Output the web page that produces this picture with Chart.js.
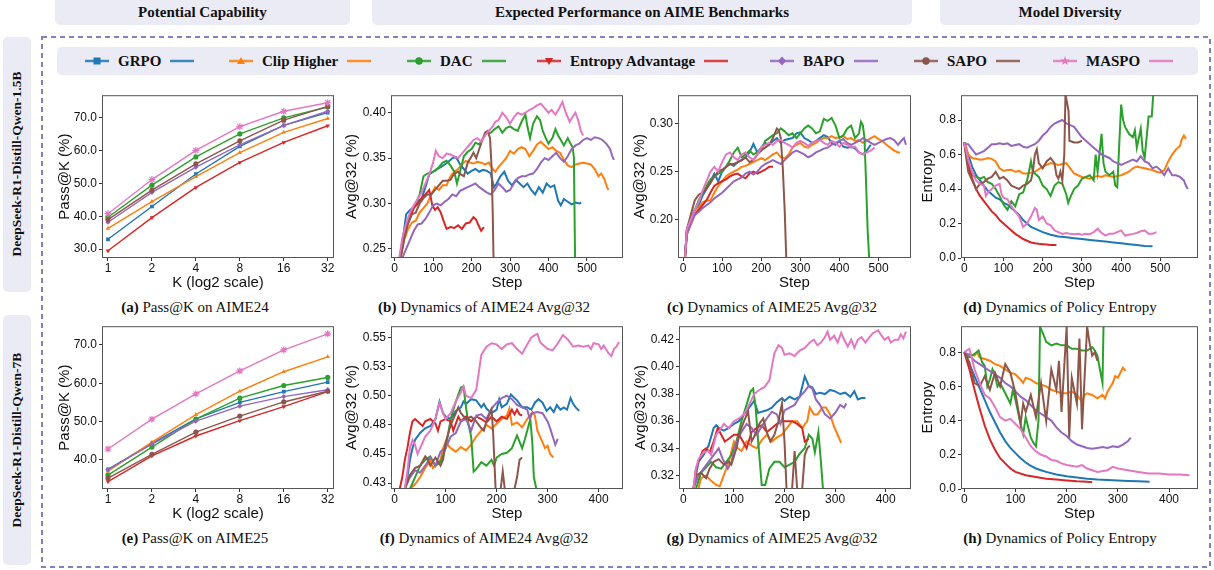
<!DOCTYPE html>
<html>
<head>
<meta charset="utf-8">
<script src="https://cdn.jsdelivr.net/npm/chart.js@4.4.1/dist/chart.umd.min.js"></script>
<style>
body { margin: 0; width: 1214px; height: 570px; position: relative; overflow: hidden; background: #fff; font-family: 'Liberation Serif', 'Times New Roman', serif; }
.box { position: absolute; background: #ebebf6; border-radius: 5px; }
.hdr { display: flex; align-items: center; justify-content: center; font-weight: bold; font-size: 15px; color: #111; }
.side { position: absolute; font-weight: bold; font-size: 13.5px; color: #111; text-align: center; white-space: nowrap; transform: rotate(-90deg); }
.leg { position: absolute; top: 47px; height: 28px; display: flex; align-items: center; gap: 9px; font-weight: bold; font-size: 15px; color: #111; }
.cap { position: absolute; width: 320px; text-align: center; font-size: 15px; color: #111; white-space: nowrap; }
canvas { position: absolute; }
</style>
</head>
<body>
<div class="box hdr" style="left:55px;top:-6px;width:295px;height:31px;padding-top:6px;box-sizing:border-box">Potential Capability</div>
<div class="box hdr" style="left:372px;top:-6px;width:540px;height:31px;padding-top:6px;box-sizing:border-box">Expected Performance on AIME Benchmarks</div>
<div class="box hdr" style="left:940px;top:-6px;width:260px;height:31px;padding-top:6px;box-sizing:border-box">Model Diversity</div>
<div class="box" style="left:3px;top:37px;width:28px;height:255px"></div>
<div class="box" style="left:3px;top:315px;width:28px;height:250px"></div>
<div class="side" style="left:-111px;top:155px;width:256px;height:18px;line-height:18px">DeepSeek-R1-Distill-Qwen-1.5B</div>
<div class="side" style="left:-111px;top:431px;width:256px;height:18px;line-height:18px">DeepSeek-R1-Distill-Qwen-7B</div>
<svg style="position:absolute;left:0;top:0" width="1214" height="570">
  <rect x="42" y="37" width="1168" height="530" fill="none" stroke="#7c83c0" stroke-width="2" stroke-dasharray="5 4"/>
</svg>
<div class="box" style="left:57px;top:47px;width:1141px;height:28px"></div>
<div id="legend"></div>

<script>
// methods + colours (matplotlib tab10)
const methods = ['GRPO', 'Clip Higher', 'DAC', 'Entropy Advantage', 'BAPO', 'SAPO', 'MASPO'];
const colors = ['#1f77b4', '#ff7f0e', '#2ca02c', '#d62728', '#9467bd', '#8c564b', '#e377c2'];
const markers = ['rect', 'triangle', 'circle', 'triangleDown', 'rectRot', 'circle', 'star'];

// Pass@K
const kValues = [1, 2, 4, 8, 16, 32];
const a_GRPO = [33.0, 43.0, 52.9, 61.3, 67.7, 71.6];
const a_Clip = [36.3, 44.5, 52.1, 59.4, 65.6, 69.8];
const a_DAC = [39.7, 49.5, 58.1, 65.1, 70.0, 73.3];
const a_Ent = [29.5, 39.6, 48.8, 56.4, 62.5, 67.6];
const a_BAPO = [38.2, 47.3, 55.0, 61.8, 67.7, 72.0];
const a_SAPO = [39.0, 48.0, 56.0, 63.0, 69.3, 73.5];
const a_MASPO = [40.8, 51.2, 60.1, 67.3, 72.0, 74.6];

const e_GRPO = [37.5, 44.3, 50.7, 55.0, 57.8, 60.3];
const e_Clip = [37.0, 44.6, 51.8, 57.9, 63.0, 66.9];
const e_DAC = [36.0, 43.3, 50.6, 56.1, 59.4, 61.5];
const e_Ent = [34.3, 41.0, 46.2, 50.2, 53.9, 57.8];
const e_BAPO = [37.4, 44.1, 50.1, 54.0, 56.5, 58.3];
const e_SAPO = [35.2, 41.4, 47.2, 51.4, 55.1, 57.9];
const e_MASPO = [42.8, 50.6, 57.2, 63.2, 68.7, 72.9];

// (b) AIME24 Avg@32, 1.5B  [step, value]
const b_GRPO = [[0,.24],[14,.24],[20,.258],[25,.272],[30,.288],[40,.293],[50,.296],[60,.303],[70,.305],[80,.318],[90,.332],[100,.335],[110,.338],[120,.34],[130,.343],[140,.346],[150,.35],[160,.351],[170,.343],[180,.338],[190,.333],[200,.336],[210,.338],[220,.335],[230,.337],[240,.336],[250,.333],[258,.318],[265,.322],[275,.33],[285,.335],[295,.325],[305,.32],[315,.326],[325,.322],[335,.318],[345,.322],[355,.315],[365,.31],[375,.318],[385,.312],[395,.322],[405,.318],[415,.32],[425,.303],[432,.298],[440,.305],[450,.302],[460,.299],[470,.301],[480,.3],[485,.301]];
const b_Clip = [[0,.24],[16,.24],[25,.26],[35,.272],[45,.279],[55,.281],[65,.29],[75,.295],[85,.3],[95,.31],[105,.318],[115,.315],[125,.32],[135,.32],[145,.33],[155,.335],[165,.338],[175,.343],[185,.347],[195,.345],[205,.344],[215,.346],[225,.345],[235,.343],[245,.345],[255,.338],[262,.335],[270,.34],[280,.345],[290,.35],[300,.358],[310,.355],[320,.36],[330,.362],[340,.36],[350,.352],[360,.358],[370,.365],[380,.368],[390,.364],[400,.36],[410,.362],[420,.358],[430,.356],[440,.348],[450,.342],[460,.34],[470,.343],[480,.344],[490,.345],[500,.344],[510,.343],[520,.338],[530,.33],[537,.333],[545,.327],[552,.318],[556,.315]];
const b_DAC = [[0,.24],[15,.24],[25,.262],[35,.28],[45,.292],[55,.3],[65,.31],[75,.33],[85,.333],[95,.334],[105,.336],[115,.34],[125,.345],[135,.347],[145,.342],[155,.335],[162,.322],[170,.335],[180,.352],[190,.357],[200,.36],[210,.367],[220,.365],[230,.372],[240,.378],[250,.378],[260,.382],[270,.385],[280,.378],[290,.383],[300,.385],[310,.382],[320,.38],[330,.39],[340,.398],[345,.385],[352,.372],[360,.388],[370,.396],[378,.392],[385,.38],[393,.372],[400,.366],[410,.372],[418,.382],[425,.375],[432,.37],[440,.364],[450,.372],[457,.366],[463,.362],[466,.35],[469,.24],[480,.24]];
const b_Ent = [[0,.24],[15,.24],[22,.262],[30,.275],[40,.285],[50,.295],[60,.3],[70,.306],[80,.31],[90,.315],[98,.298],[105,.293],[112,.296],[120,.29],[128,.28],[135,.272],[145,.274],[155,.273],[165,.276],[175,.272],[185,.278],[195,.279],[205,.285],[212,.282],[218,.276],[225,.27],[232,.274]];
const b_BAPO = [[0,.24],[20,.24],[30,.25],[40,.26],[50,.27],[60,.277],[70,.278],[80,.283],[90,.29],[100,.298],[110,.3],[120,.298],[130,.302],[140,.305],[150,.31],[160,.308],[170,.314],[180,.316],[190,.318],[200,.32],[210,.322],[220,.318],[230,.315],[240,.312],[250,.31],[260,.315],[270,.322],[280,.318],[290,.313],[300,.315],[310,.322],[320,.328],[330,.33],[340,.33],[350,.332],[360,.333],[370,.338],[380,.345],[390,.35],[400,.348],[410,.352],[420,.356],[430,.35],[440,.346],[450,.352],[460,.36],[470,.364],[480,.366],[490,.37],[500,.372],[510,.37],[520,.373],[530,.372],[540,.37],[550,.366],[560,.36],[566,.352],[570,.348]];
const b_SAPO = [[0,.24],[15,.24],[25,.262],[35,.278],[45,.288],[55,.29],[65,.3],[75,.306],[85,.31],[95,.31],[105,.315],[115,.32],[125,.325],[135,.325],[145,.326],[155,.333],[165,.335],[172,.332],[180,.33],[190,.345],[200,.352],[205,.356],[212,.35],[220,.36],[228,.37],[235,.378],[242,.38],[248,.372],[252,.34],[255,.29],[257,.24],[290,.24]];
const b_MASPO = [[0,.24],[12,.24],[20,.262],[30,.278],[40,.29],[50,.298],[60,.305],[70,.312],[80,.322],[90,.332],[100,.345],[107,.358],[115,.352],[125,.35],[135,.355],[145,.354],[155,.352],[165,.35],[175,.355],[185,.36],[195,.365],[205,.37],[215,.372],[225,.368],[235,.375],[245,.38],[255,.385],[262,.39],[270,.392],[280,.4],[290,.395],[300,.388],[310,.395],[320,.4],[330,.398],[340,.4],[350,.403],[360,.405],[370,.408],[380,.41],[390,.405],[400,.4],[408,.403],[418,.398],[428,.405],[436,.412],[445,.4],[455,.39],[462,.395],[470,.4],[477,.392],[484,.38],[490,.375]];

// (c) AIME25 Avg@32, 1.5B
const c_GRPO = [[5,.16],[10,.19],[20,.2],[30,.21],[40,.215],[50,.225],[60,.232],[70,.24],[80,.248],[90,.24],[100,.25],[110,.255],[120,.258],[130,.256],[140,.26],[150,.262],[160,.265],[170,.27],[180,.279],[190,.27],[200,.275],[210,.28],[220,.278],[230,.282],[240,.285],[250,.28],[260,.283],[270,.284],[280,.285],[290,.29],[300,.291],[310,.285],[320,.283],[330,.28],[340,.282],[350,.285],[360,.288],[370,.286],[380,.28],[390,.278],[400,.282],[410,.276],[420,.275],[430,.276],[440,.274],[450,.27],[460,.268],[470,.272],[480,.278]];
const c_Clip = [[5,.16],[10,.185],[20,.195],[30,.205],[40,.212],[50,.218],[60,.22],[70,.22],[80,.228],[90,.235],[100,.24],[110,.245],[120,.248],[130,.25],[140,.252],[150,.255],[160,.256],[170,.258],[180,.26],[190,.262],[200,.264],[210,.262],[220,.265],[230,.268],[240,.27],[250,.265],[260,.264],[270,.268],[280,.275],[290,.278],[300,.28],[310,.276],[320,.275],[330,.278],[340,.28],[350,.283],[360,.285],[370,.285],[380,.287],[390,.285],[400,.286],[410,.287],[420,.284],[430,.285],[440,.282],[450,.283],[460,.28],[470,.282],[480,.285],[490,.287],[500,.284],[510,.282],[520,.278],[530,.275],[540,.272],[550,.27],[555,.27]];
const c_DAC = [[5,.16],[10,.185],[20,.2],[30,.21],[40,.22],[50,.228],[60,.235],[70,.242],[80,.245],[90,.248],[100,.25],[110,.255],[120,.262],[130,.27],[140,.275],[150,.265],[160,.268],[170,.272],[180,.268],[190,.27],[200,.272],[210,.282],[220,.285],[230,.288],[240,.29],[250,.295],[260,.292],[270,.288],[280,.29],[290,.285],[300,.29],[310,.295],[320,.298],[330,.295],[340,.29],[350,.292],[360,.305],[370,.303],[380,.306],[390,.298],[400,.285],[410,.288],[420,.295],[430,.298],[440,.285],[450,.29],[455,.302],[460,.298],[464,.285],[468,.24],[472,.19],[476,.16],[490,.16]];
const c_Ent = [[5,.16],[10,.19],[20,.2],[30,.205],[40,.21],[50,.215],[60,.22],[70,.228],[80,.235],[90,.238],[100,.24],[110,.242],[120,.245],[130,.247],[140,.248],[150,.245],[160,.243],[170,.248],[180,.25],[190,.248],[200,.25],[210,.252],[220,.255],[230,.255]];
const c_BAPO = [[5,.16],[10,.185],[20,.195],[30,.205],[40,.208],[50,.212],[60,.215],[70,.218],[80,.222],[90,.225],[100,.228],[110,.232],[120,.236],[130,.24],[140,.242],[150,.244],[160,.248],[170,.25],[180,.247],[190,.25],[200,.255],[210,.258],[220,.26],[230,.262],[240,.26],[250,.258],[260,.262],[270,.266],[280,.27],[290,.272],[300,.27],[310,.268],[320,.265],[330,.267],[340,.27],[350,.272],[360,.274],[370,.275],[380,.278],[390,.28],[400,.282],[410,.284],[420,.28],[430,.278],[440,.28],[450,.282],[460,.285],[470,.283],[480,.28],[490,.278],[500,.28],[510,.282],[520,.284],[530,.285],[540,.283],[550,.278],[560,.283],[565,.285],[570,.278]];
const c_SAPO = [[5,.16],[10,.19],[20,.205],[30,.22],[40,.226],[50,.228],[60,.232],[70,.238],[80,.245],[90,.25],[100,.252],[110,.255],[120,.258],[130,.258],[140,.26],[150,.262],[160,.265],[170,.26],[180,.262],[190,.268],[200,.272],[210,.275],[220,.278],[230,.285],[240,.295],[245,.293],[250,.285],[255,.255],[260,.21],[264,.16],[295,.16]];
const c_MASPO = [[5,.16],[10,.19],[20,.2],[30,.21],[40,.218],[50,.23],[60,.24],[70,.25],[80,.255],[90,.25],[100,.26],[110,.268],[120,.27],[130,.265],[140,.262],[150,.268],[160,.27],[170,.265],[180,.262],[190,.268],[200,.275],[210,.278],[220,.28],[230,.278],[240,.282],[250,.283],[260,.28],[270,.278],[280,.275],[290,.28],[300,.282],[310,.28],[320,.277],[330,.28],[340,.282],[350,.283],[360,.28],[370,.278],[380,.282],[390,.28],[400,.276],[410,.28],[420,.278],[430,.275],[440,.276],[450,.27],[460,.268],[470,.27],[480,.272],[490,.275]];

// (d) policy entropy, 1.5B
const d_GRPO = [[0,.67],[5,.63],[10,.6],[20,.53],[30,.48],[40,.45],[50,.42],[60,.39],[70,.37],[80,.35],[90,.34],[100,.32],[110,.31],[120,.29],[130,.27],[140,.25],[150,.22],[160,.2],[170,.18],[180,.17],[190,.16],[200,.15],[220,.135],[240,.125],[260,.12],[280,.115],[300,.11],[320,.105],[340,.1],[360,.095],[380,.09],[400,.085],[420,.08],[440,.075],[460,.07],[480,.068]];
const d_Clip = [[0,.67],[5,.64],[10,.6],[20,.58],[30,.575],[40,.57],[50,.572],[60,.58],[70,.575],[80,.56],[90,.52],[100,.505],[110,.51],[120,.512],[130,.5],[140,.505],[150,.49],[160,.49],[170,.495],[180,.5],[190,.515],[200,.53],[210,.54],[220,.55],[230,.545],[240,.54],[250,.545],[260,.55],[270,.52],[280,.49],[290,.48],[300,.47],[310,.465],[320,.46],[330,.47],[340,.475],[350,.47],[360,.48],[370,.475],[380,.47],[390,.475],[400,.48],[410,.49],[420,.5],[430,.52],[440,.53],[450,.525],[460,.52],[470,.515],[480,.51],[490,.5],[500,.495],[510,.51],[520,.56],[530,.6],[540,.63],[550,.65],[555,.69],[560,.71],[565,.69]];
const d_DAC = [[0,.67],[5,.6],[10,.55],[15,.5],[20,.48],[30,.47],[40,.46],[50,.47],[60,.44],[70,.43],[80,.4],[90,.36],[100,.31],[110,.28],[120,.33],[130,.3],[140,.37],[150,.38],[160,.45],[165,.5],[170,.56],[175,.5],[180,.49],[190,.47],[200,.42],[210,.4],[220,.36],[230,.42],[240,.44],[250,.43],[260,.37],[265,.32],[270,.35],[280,.4],[290,.42],[300,.46],[310,.47],[320,.48],[330,.45],[335,.6],[340,.5],[350,.72],[355,.55],[360,.5],[370,.48],[380,.5],[385,.42],[390,.41],[395,.65],[400,.89],[405,.8],[410,.76],[420,.72],[430,.7],[435,.74],[440,.64],[450,.75],[455,.62],[460,.58],[465,.7],[470,.82],[478,.82],[482,.95],[490,.95]];
const d_Ent = [[0,.67],[5,.6],[10,.55],[20,.46],[30,.4],[40,.36],[50,.33],[60,.3],[70,.27],[80,.25],[90,.22],[100,.2],[110,.18],[120,.16],[130,.14],[140,.125],[150,.11],[160,.1],[170,.09],[180,.085],[190,.082],[200,.08],[210,.078],[220,.076],[235,.075]];
const d_BAPO = [[0,.67],[5,.66],[10,.66],[20,.63],[30,.6],[40,.61],[50,.62],[60,.64],[70,.66],[80,.66],[90,.665],[100,.66],[110,.665],[120,.65],[130,.655],[140,.66],[150,.645],[160,.64],[170,.65],[180,.66],[190,.68],[200,.71],[210,.73],[220,.76],[230,.78],[240,.79],[250,.8],[260,.78],[270,.77],[280,.76],[290,.73],[300,.7],[310,.68],[320,.66],[330,.64],[340,.62],[350,.6],[360,.59],[370,.58],[380,.56],[390,.55],[400,.54],[410,.55],[420,.56],[430,.57],[440,.56],[450,.59],[460,.56],[470,.55],[480,.52],[490,.53],[500,.51],[510,.48],[520,.52],[530,.48],[540,.48],[550,.47],[560,.45],[565,.42],[570,.4]];
const d_SAPO = [[0,.67],[5,.58],[10,.5],[20,.45],[30,.4],[40,.43],[50,.44],[60,.46],[70,.47],[80,.5],[90,.46],[100,.47],[110,.45],[120,.42],[130,.41],[140,.4],[150,.42],[160,.43],[170,.45],[175,.5],[180,.6],[185,.63],[190,.55],[200,.52],[210,.56],[220,.58],[230,.55],[235,.48],[240,.46],[245,.5],[250,.45],[255,.6],[258,.95],[262,.9],[266,.85],[268,.68],[280,.67],[290,.67],[300,.68]];
const d_MASPO = [[0,.67],[5,.62],[10,.57],[20,.5],[30,.45],[40,.43],[50,.42],[55,.36],[60,.38],[70,.4],[80,.42],[90,.43],[95,.37],[100,.35],[110,.34],[120,.3],[130,.27],[140,.24],[150,.18],[160,.2],[170,.24],[180,.29],[185,.28],[190,.22],[200,.24],[210,.2],[220,.19],[230,.16],[240,.15],[250,.14],[260,.145],[270,.14],[280,.138],[290,.14],[300,.135],[310,.14],[320,.138],[330,.15],[340,.17],[350,.145],[360,.13],[370,.14],[380,.14],[390,.15],[400,.16],[410,.13],[420,.135],[430,.14],[440,.145],[450,.155],[460,.16],[470,.14],[480,.14],[490,.15]];

// (f) AIME24 Avg@32, 7B
const f_GRPO = [[0,.42],[20,.42],[25,.43],[30,.445],[35,.455],[40,.462],[50,.468],[60,.472],[70,.474],[80,.48],[88,.495],[95,.485],[100,.482],[110,.48],[120,.487],[130,.49],[135,.495],[140,.493],[150,.497],[160,.496],[170,.49],[175,.493],[180,.489],[190,.485],[200,.488],[205,.497],[210,.49],[220,.493],[228,.501],[235,.498],[240,.496],[250,.49],[260,.49],[268,.488],[275,.494],[282,.497],[290,.494],[298,.487],[305,.49],[312,.486],[318,.492],[325,.488],[332,.49],[338,.488],[345,.498],[350,.493],[355,.49],[362,.487]];
const f_Clip = [[0,.42],[30,.42],[40,.424],[50,.43],[60,.438],[70,.444],[75,.438],[80,.44],[90,.445],[95,.455],[100,.46],[110,.455],[120,.452],[130,.456],[140,.453],[150,.458],[160,.465],[170,.47],[180,.475],[190,.472],[200,.476],[210,.48],[220,.483],[225,.489],[230,.475],[240,.477],[250,.473],[260,.48],[270,.486],[275,.483],[280,.47],[290,.46],[295,.455],[300,.457],[305,.45],[311,.447]];
const f_DAC = [[0,.42],[30,.42],[40,.43],[50,.44],[60,.445],[70,.448],[80,.44],[90,.443],[100,.455],[110,.48],[120,.495],[130,.507],[135,.508],[140,.49],[145,.475],[150,.465],[155,.435],[160,.437],[170,.443],[180,.44],[190,.445],[195,.44],[200,.447],[210,.45],[220,.451],[230,.455],[240,.466],[250,.455],[255,.462],[260,.47],[266,.48],[270,.46],[273,.43],[278,.42],[285,.42]];
const f_Ent = [[0,.42],[10,.42],[15,.43],[20,.445],[25,.455],[30,.468],[35,.478],[40,.48],[45,.478],[50,.476],[55,.474],[60,.478],[70,.48],[80,.476],[85,.47],[90,.478],[100,.48],[110,.478],[115,.47],[120,.476],[125,.482],[130,.478],[140,.482],[150,.478],[160,.482],[170,.48],[180,.477],[190,.482],[200,.478],[210,.482],[220,.48],[230,.488],[235,.484],[240,.488],[245,.484],[250,.483]];
const f_BAPO = [[0,.42],[20,.42],[30,.43],[40,.436],[50,.434],[60,.44],[70,.447],[80,.44],[90,.452],[100,.455],[110,.465],[120,.468],[130,.478],[140,.48],[150,.47],[160,.483],[170,.484],[180,.48],[190,.489],[200,.494],[210,.498],[220,.5],[230,.497],[240,.492],[250,.49],[260,.488],[265,.48],[270,.485],[280,.486],[290,.485],[300,.478],[305,.472],[310,.465],[315,.458],[320,.463]];
const f_SAPO = [[0,.42],[20,.42],[30,.432],[40,.438],[50,.44],[60,.448],[65,.445],[70,.44],[80,.447],[90,.44],[95,.445],[100,.46],[110,.475],[120,.485],[125,.49],[130,.485],[140,.48],[150,.482],[160,.478],[170,.472],[175,.47],[180,.478],[190,.488],[193,.47],[196,.44],[198,.42],[208,.42],[212,.435],[216,.42],[235,.42],[240,.43],[245,.445],[250,.447]];
const f_MASPO = [[0,.42],[20,.42],[25,.435],[30,.455],[35,.462],[40,.458],[45,.45],[50,.455],[60,.465],[70,.47],[80,.48],[88,.494],[95,.485],[100,.48],[110,.485],[120,.495],[130,.503],[135,.508],[140,.5],[150,.498],[160,.505],[165,.52],[170,.535],[180,.542],[190,.545],[200,.544],[210,.54],[220,.544],[230,.545],[240,.54],[250,.536],[260,.544],[268,.55],[275,.552],[280,.553],[285,.546],[290,.544],[300,.54],[310,.539],[320,.545],[330,.552],[340,.548],[350,.542],[360,.543],[370,.542],[380,.543],[385,.54],[390,.545],[400,.544],[405,.54],[410,.543],[420,.536],[425,.534],[430,.54],[435,.542],[440,.546]];

// (g) AIME25 Avg@32, 7B
const g_GRPO = [[0,.31],[20,.31],[25,.32],[30,.33],[40,.335],[50,.342],[60,.355],[65,.357],[70,.355],[80,.353],[90,.355],[100,.358],[110,.36],[120,.365],[130,.37],[140,.375],[148,.366],[155,.367],[165,.368],[175,.37],[185,.374],[195,.377],[200,.375],[210,.378],[220,.376],[230,.378],[240,.393],[248,.386],[255,.385],[262,.38],[270,.381],[280,.38],[290,.383],[300,.382],[310,.38],[320,.381],[330,.378],[338,.382],[345,.376],[352,.377],[360,.377]];
const g_Clip = [[0,.31],[30,.31],[35,.318],[45,.32],[55,.316],[65,.313],[72,.312],[80,.32],[90,.33],[100,.345],[108,.34],[115,.338],[125,.345],[135,.342],[145,.34],[155,.346],[165,.35],[175,.345],[185,.348],[195,.35],[205,.355],[215,.36],[225,.36],[235,.355],[245,.36],[250,.37],[258,.365],[265,.365],[275,.37],[282,.37],[290,.365],[298,.356],[305,.35],[312,.344]];
const g_DAC = [[0,.31],[25,.31],[35,.322],[45,.326],[55,.33],[65,.326],[75,.325],[85,.33],[95,.335],[105,.345],[115,.36],[125,.372],[133,.382],[138,.384],[143,.37],[148,.345],[155,.313],[162,.313],[170,.325],[180,.33],[190,.33],[200,.326],[210,.328],[220,.33],[230,.336],[240,.34],[248,.35],[255,.347],[260,.337],[267,.352],[272,.33],[276,.31],[280,.31]];
const g_Ent = [[0,.31],[20,.31],[25,.325],[30,.33],[38,.338],[45,.34],[52,.337],[60,.345],[68,.355],[75,.35],[82,.345],[90,.347],[100,.35],[110,.35],[118,.345],[125,.34],[135,.352],[145,.355],[155,.357],[165,.352],[175,.355],[185,.358],[195,.36],[205,.36],[215,.36],[225,.358],[235,.355],[240,.345],[248,.347]];
const g_BAPO = [[0,.31],[20,.31],[30,.32],[40,.325],[50,.33],[60,.335],[70,.34],[78,.332],[88,.325],[95,.33],[105,.345],[115,.352],[125,.358],[135,.355],[145,.35],[155,.356],[165,.362],[175,.367],[185,.365],[192,.358],[200,.368],[210,.37],[220,.372],[230,.378],[240,.382],[248,.386],[255,.384],[262,.376],[270,.372],[280,.365],[290,.362],[300,.366],[310,.372],[318,.37],[322,.373]];
const g_SAPO = [[0,.31],[20,.31],[25,.32],[35,.322],[45,.318],[52,.325],[60,.33],[70,.332],[80,.328],[90,.33],[95,.328],[105,.34],[112,.352],[120,.36],[128,.367],[135,.345],[142,.35],[150,.358],[158,.362],[165,.352],[172,.345],[180,.35],[188,.36],[195,.373],[200,.345],[204,.31],[215,.31],[220,.338],[225,.31],[235,.31],[240,.335],[245,.34],[250,.342]];
const g_MASPO = [[0,.31],[20,.31],[25,.325],[30,.332],[40,.337],[50,.338],[55,.335],[65,.35],[75,.355],[80,.358],[90,.355],[100,.36],[110,.362],[120,.365],[130,.372],[140,.38],[150,.383],[160,.385],[170,.39],[175,.4],[180,.41],[188,.416],[195,.414],[200,.409],[210,.41],[220,.408],[230,.412],[240,.414],[250,.418],[258,.42],[265,.416],[272,.418],[280,.422],[285,.426],[290,.42],[298,.423],[305,.418],[312,.425],[318,.42],[325,.415],[332,.42],[338,.414],[345,.42],[352,.422],[360,.418],[368,.422],[375,.425],[385,.427],[390,.424],[398,.42],[405,.422],[410,.418],[418,.42],[425,.42],[430,.424],[435,.421],[440,.426]];

// (h) policy entropy, 7B
const h_GRPO = [[0,.8],[5,.77],[10,.73],[20,.66],[30,.59],[40,.52],[50,.45],[60,.39],[70,.33],[80,.28],[90,.24],[100,.21],[110,.18],[120,.155],[130,.135],[140,.12],[150,.11],[160,.1],[180,.085],[200,.075],[220,.067],[240,.06],[260,.055],[280,.052],[300,.05],[320,.047],[340,.045],[362,.042]];
const h_Clip = [[0,.8],[5,.78],[10,.79],[20,.78],[25,.8],[30,.77],[40,.76],[50,.75],[60,.73],[70,.72],[80,.7],[90,.68],[100,.67],[110,.64],[115,.62],[120,.65],[130,.64],[140,.62],[150,.61],[160,.6],[170,.58],[180,.57],[190,.56],[200,.56],[210,.57],[220,.55],[225,.53],[230,.51],[235,.55],[240,.56],[250,.55],[260,.53],[270,.55],[275,.53],[280,.57],[290,.62],[295,.66],[300,.65],[305,.68],[310,.71],[315,.69]];
const h_DAC = [[0,.8],[5,.78],[10,.77],[20,.79],[28,.81],[35,.74],[40,.72],[45,.6],[50,.64],[55,.7],[60,.66],[65,.6],[70,.62],[80,.56],[90,.5],[95,.58],[100,.52],[105,.45],[110,.38],[115,.32],[120,.42],[125,.36],[130,.3],[135,.27],[140,.25],[145,.4],[148,.95],[155,.9],[160,.86],[170,.84],[180,.85],[190,.84],[200,.84],[210,.82],[220,.82],[230,.81],[240,.81],[250,.83],[255,.81],[260,.78],[265,.7],[270,.62],[272,.95]];
const h_Ent = [[0,.8],[10,.7],[20,.58],[30,.47],[40,.37],[50,.29],[60,.23],[70,.18],[80,.15],[90,.12],[100,.1],[120,.08],[140,.07],[160,.06],[180,.055],[200,.05],[220,.045],[240,.043],[250,.04]];
const h_BAPO = [[0,.8],[10,.78],[20,.75],[30,.73],[40,.71],[50,.69],[60,.67],[70,.65],[80,.62],[90,.6],[100,.57],[110,.54],[120,.52],[130,.49],[140,.46],[150,.44],[160,.42],[170,.4],[180,.36],[190,.33],[200,.31],[210,.28],[220,.26],[230,.25],[240,.24],[250,.235],[260,.24],[270,.245],[280,.24],[290,.25],[300,.245],[310,.26],[320,.28],[325,.3]];
const h_SAPO = [[0,.8],[10,.74],[20,.62],[30,.6],[40,.66],[50,.58],[60,.68],[70,.6],[80,.73],[90,.68],[100,.56],[110,.38],[115,.5],[120,.45],[130,.55],[140,.42],[150,.62],[160,.4],[170,.7],[180,.58],[185,.75],[190,.45],[200,.95],[205,.3],[210,.65],[220,.5],[225,.88],[230,.35],[240,.95],[245,.85],[250,.78],[255,.8],[260,.75]];
const h_MASPO = [[0,.8],[10,.82],[20,.7],[30,.62],[40,.55],[50,.53],[60,.48],[70,.42],[80,.4],[90,.41],[100,.38],[110,.35],[120,.3],[130,.25],[140,.22],[150,.2],[160,.19],[170,.17],[180,.165],[190,.15],[200,.14],[220,.13],[230,.14],[240,.12],[260,.1],[280,.11],[290,.13],[300,.12],[320,.11],[340,.1],[360,.09],[380,.09],[400,.085],[420,.085],[440,.08]];

// tick values / labels
const kTickPos = [0, 1, 2, 3, 4, 5];
const stepTicks500 = [0, 100, 200, 300, 400, 500];
const stepTicks400 = [0, 100, 200, 300, 400];
const aYTicks = [30, 40, 50, 60, 70], aYLabels = ['30.0', '40.0', '50.0', '60.0', '70.0'];
const eYTicks = [40, 50, 60, 70], eYLabels = ['40.0', '50.0', '60.0', '70.0'];
const bYTicks = [0.25, 0.30, 0.35, 0.40], bYLabels = ['0.25', '0.30', '0.35', '0.40'];
const cYTicks = [0.20, 0.25, 0.30], cYLabels = ['0.20', '0.25', '0.30'];
const entTicks = [0, 0.2, 0.4, 0.6, 0.8], entLabels = ['0.0', '0.2', '0.4', '0.6', '0.8'];
const fYTicks = [0.425, 0.45, 0.475, 0.5, 0.525, 0.55], fYLabels = ['0.43', '0.45', '0.48', '0.50', '0.53', '0.55'];
const gYTicks = [0.32, 0.34, 0.36, 0.38, 0.40, 0.42], gYLabels = ['0.32', '0.34', '0.36', '0.38', '0.40', '0.42'];

const SANS = "'Liberation Sans', Arial, sans-serif";

// legend
const legendX = [85, 229, 407, 537, 770, 914, 1053];
function markerSvg(kind, col, cx, cy) {
    if (kind === 'rect') return `<rect x="${cx-3.5}" y="${cy-3.5}" width="7" height="7" fill="${col}"/>`;
    if (kind === 'triangle') return `<polygon points="${cx},${cy-4} ${cx+4},${cy+3} ${cx-4},${cy+3}" fill="${col}"/>`;
    if (kind === 'triangleDown') return `<polygon points="${cx},${cy+4} ${cx+4},${cy-3} ${cx-4},${cy-3}" fill="${col}"/>`;
    if (kind === 'rectRot') return `<polygon points="${cx},${cy-4.5} ${cx+4},${cy} ${cx},${cy+4.5} ${cx-4},${cy}" fill="${col}"/>`;
    if (kind === 'star') {
        let pts = [];
        for (let i = 0; i < 10; i++) {
            const r = i % 2 ? 2 : 5, a = -Math.PI / 2 + i * Math.PI / 5;
            pts.push((cx + r * Math.cos(a)).toFixed(1) + ',' + (cy + r * Math.sin(a)).toFixed(1));
        }
        return `<polygon points="${pts.join(' ')}" fill="${col}"/>`;
    }
    return `<circle cx="${cx}" cy="${cy}" r="3.7" fill="${col}"/>`;
}
let legHtml = '';
methods.forEach((m, i) => {
    const c = colors[i];
    legHtml += `<div class="leg" style="left:${legendX[i]}px">` +
        `<svg width="24" height="12"><line x1="0" y1="6" x2="24" y2="6" stroke="${c}" stroke-width="2.5" opacity="0.85"/>${markerSvg(markers[i], c, 12, 6)}</svg>` +
        `<span>${m}</span>` +
        `<svg width="24" height="12"><line x1="0" y1="6" x2="24" y2="6" stroke="${c}" stroke-width="2.5" opacity="0.85"/></svg></div>`;
});
document.getElementById('legend').innerHTML = legHtml;

// captions (centred under each sub-figure, y-label included)
const captions = [
    ['(a)', 'Pass@K on AIME24', 195, 299], ['(b)', 'Dynamics of AIME24 Avg@32', 484, 299],
    ['(c)', 'Dynamics of AIME25 Avg@32', 772, 299], ['(d)', 'Dynamics of Policy Entropy', 1060, 299],
    ['(e)', 'Pass@K on AIME25', 195, 530], ['(f)', 'Dynamics of AIME24 Avg@32', 484, 530],
    ['(g)', 'Dynamics of AIME25 Avg@32', 772, 530], ['(h)', 'Dynamics of Policy Entropy', 1060, 530]
];
captions.forEach(c => {
    const d = document.createElement('div');
    d.className = 'cap';
    d.style.left = (c[2] - 160) + 'px';
    d.style.top = c[3] + 'px';
    d.innerHTML = '<b>' + c[0] + '</b> ' + c[1];
    document.body.appendChild(d);
});

const framePlugin = {
    id: 'frame',
    afterDatasetsDraw(chart) {
        const { ctx, chartArea: a } = chart;
        ctx.save();
        ctx.strokeStyle = '#555';
        ctx.lineWidth = 1;
        ctx.strokeRect(a.left + 0.5, a.top + 0.5, a.right - a.left - 1, a.bottom - a.top - 1);
        ctx.restore();
    }
};

function passSets(series) {
    return series.map((vals, i) => ({
        label: methods[i],
        data: vals.map((v, j) => ({ x: Math.log2(kValues[j]), y: v })),
        borderColor: colors[i], backgroundColor: colors[i],
        borderWidth: 1.4,
        pointStyle: markers[i] === 'triangleDown' ? 'triangle' : markers[i],
        rotation: markers[i] === 'triangleDown' ? 180 : 0,
        pointRadius: markers[i] === 'star' ? 3.5 : 2.6,
        pointBorderWidth: markers[i] === 'star' ? 1.2 : 0,
        pointBackgroundColor: colors[i], pointBorderColor: colors[i],
        order: 10 - i
    }));
}
function dynSets(series) {
    return series.map((vals, i) => ({
        label: methods[i],
        data: vals.map(p => ({ x: p[0], y: p[1] })),
        borderColor: colors[i], borderWidth: 2, pointRadius: 0, tension: 0,
        order: 10 - i
    }));
}

function panel(p) {
    const padT = 8, padR = 8, xh = 36;
    const cv = document.createElement('canvas');
    cv.width = p.yw + (p.r - p.l) + padR;
    cv.height = padT + (p.b - p.t) + xh;
    cv.style.left = (p.l - p.yw) + 'px';
    cv.style.top = (p.t - padT) + 'px';
    document.body.appendChild(cv);
    const tickFont = { family: SANS, size: 12 };
    const titleFont = { family: SANS, size: 15 };
    const grid = { display: true, drawOnChartArea: false, drawTicks: true, tickLength: 3, color: '#333' };
    new Chart(cv, {
        type: 'line',
        data: { datasets: p.sets },
        options: {
            responsive: false, animation: false, devicePixelRatio: 1,
            layout: { padding: { left: 0, top: padT, right: padR, bottom: 0 } },
            plugins: { legend: { display: false }, tooltip: { enabled: false } },
            scales: {
                x: {
                    type: 'linear', min: p.xmin, max: p.xmax,
                    afterFit: s => { s.height = xh; },
                    afterBuildTicks: s => { s.ticks = p.xt.map(v => ({ value: v })); },
                    ticks: { autoSkip: false, maxRotation: 0, padding: 0, font: tickFont, color: '#111', callback: (v, i) => p.xl[i] },
                    grid: grid, border: { display: false },
                    title: { display: true, text: p.xTitle, font: titleFont, color: '#111', padding: { top: 0, bottom: 2 } }
                },
                y: {
                    type: 'linear', min: p.ymin, max: p.ymax,
                    afterFit: s => { s.width = p.yw; },
                    afterBuildTicks: s => { s.ticks = p.yt.map(v => ({ value: v })); },
                    ticks: { autoSkip: false, padding: 2, font: tickFont, color: '#111', callback: (v, i) => p.yl[i] },
                    grid: grid, border: { display: false },
                    title: { display: true, text: p.yTitle, font: titleFont, color: '#111', padding: { top: 4, bottom: 0 } }
                }
            }
        },
        plugins: [framePlugin]
    });
}

const kPanel = { xmin: -0.136, xmax: 5.143, xt: kTickPos, xl: kValues, xTitle: 'K (log2 scale)', yTitle: 'Pass@K (%)' };
panel(Object.assign({ l: 102, t: 94, r: 334, b: 258, yw: 50, ymin: 27.3, ymax: 76.9, yt: aYTicks, yl: aYLabels,
    sets: passSets([a_GRPO, a_Clip, a_DAC, a_Ent, a_BAPO, a_SAPO, a_MASPO]) }, kPanel));
panel(Object.assign({ l: 102, t: 325, r: 334, b: 489, yw: 50, ymin: 32.35, ymax: 74.9, yt: eYTicks, yl: eYLabels,
    sets: passSets([e_GRPO, e_Clip, e_DAC, e_Ent, e_BAPO, e_SAPO, e_MASPO]) }, kPanel));

panel({ l: 391, t: 94, r: 623, b: 258, yw: 52, xmin: -9.4, xmax: 593.6, xt: stepTicks500, xl: stepTicks500,
    ymin: 0.24, ymax: 0.4193, yt: bYTicks, yl: bYLabels, xTitle: 'Step', yTitle: 'Avg@32 (%)',
    sets: dynSets([b_GRPO, b_Clip, b_DAC, b_Ent, b_BAPO, b_SAPO, b_MASPO]) });
panel({ l: 678, t: 94, r: 911, b: 258, yw: 51, xmin: -12.8, xmax: 583, xt: stepTicks500, xl: stepTicks500,
    ymin: 0.16, ymax: 0.3297, yt: cYTicks, yl: cYLabels, xTitle: 'Step', yTitle: 'Avg@32 (%)',
    sets: dynSets([c_GRPO, c_Clip, c_DAC, c_Ent, c_BAPO, c_SAPO, c_MASPO]) });
panel({ l: 961, t: 94, r: 1198, b: 258, yw: 46, xmin: -8.4, xmax: 596, xt: stepTicks500, xl: stepTicks500,
    ymin: 0, ymax: 0.944, yt: entTicks, yl: entLabels, xTitle: 'Step', yTitle: 'Entropy',
    sets: dynSets([d_GRPO, d_Clip, d_DAC, d_Ent, d_BAPO, d_SAPO, d_MASPO]) });

panel({ l: 391, t: 325, r: 623, b: 489, yw: 52, xmin: -7.1, xmax: 447.8, xt: stepTicks400, xl: stepTicks400,
    ymin: 0.42, ymax: 0.5596, yt: fYTicks, yl: fYLabels, xTitle: 'Step', yTitle: 'Avg@32 (%)',
    sets: dynSets([f_GRPO, f_Clip, f_DAC, f_Ent, f_BAPO, f_SAPO, f_MASPO]) });
panel({ l: 679, t: 325, r: 911, b: 489, yw: 51, xmin: -8.5, xmax: 450, xt: stepTicks400, xl: stepTicks400,
    ymin: 0.31, ymax: 0.43, yt: gYTicks, yl: gYLabels, xTitle: 'Step', yTitle: 'Avg@32 (%)',
    sets: dynSets([g_GRPO, g_Clip, g_DAC, g_Ent, g_BAPO, g_SAPO, g_MASPO]) });
panel({ l: 961, t: 325, r: 1198, b: 489, yw: 46, xmin: -6.4, xmax: 456.6, xt: stepTicks400, xl: stepTicks400,
    ymin: 0, ymax: 0.952, yt: entTicks, yl: entLabels, xTitle: 'Step', yTitle: 'Entropy',
    sets: dynSets([h_GRPO, h_Clip, h_DAC, h_Ent, h_BAPO, h_SAPO, h_MASPO]) });
</script>
</body>
</html>
